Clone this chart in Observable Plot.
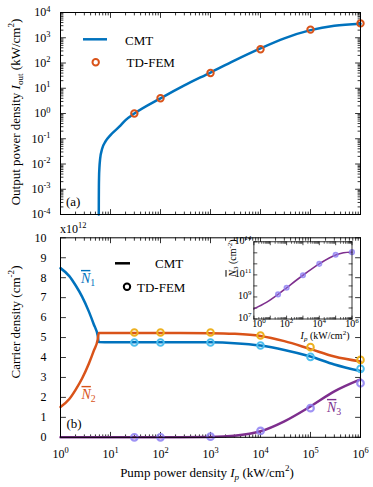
<!DOCTYPE html>
<html><head><meta charset="utf-8">
<script src="https://cdn.jsdelivr.net/npm/d3@7"></script>
<script src="https://cdn.jsdelivr.net/npm/@observablehq/plot@0.6"></script>
<style>
body{margin:0;background:#fff;}
#wrap{position:relative;width:373px;height:487px;overflow:hidden;font-family:"Liberation Serif",serif;}
#wrap svg{position:absolute;}
#wrap svg text{font-family:"Liberation Serif",serif;}
</style></head><body><div id="wrap"></div>
<script>
// ---------- Panel (a): output power density ----------
const cmtIpA   = [5.83, 5.84, 5.86, 5.9, 6.0, 6.2, 6.8, 8, 10, 15, 20, 30, 100, 300, 1000, 3000, 1e4, 3e4, 1e5, 3e5, 1e6];
const cmtIoutA = [1e-4, 4e-4, 1.2e-3, 3e-3, 7e-3, 0.016, 0.04, 0.08, 0.14, 0.3, 0.55, 1.0, 4.0, 13, 42, 125, 380, 950, 2000, 3000, 3600];
const femIpA   = [30, 100, 1000, 1e4, 1e5, 1e6];
const femIoutA = [1.0, 4.0, 40, 350, 2100, 3700];

// ---------- Panel (b): carrier densities (x 1e12 cm^-2) ----------
const cmtIpB = [1, 1.5, 2, 2.7, 3.7, 4.6, 5.57, 5.83, 10, 30, 100, 1000, 3000, 1e4, 3e4, 1e5, 3e5, 1e6];
const cmtN1  = [8.48, 8.08, 7.62, 7.05, 6.3, 5.68, 5.08, 4.78, 4.77, 4.77, 4.77, 4.76, 4.72, 4.6, 4.38, 4.05, 3.65, 3.32];
const cmtN2  = [1.52, 1.92, 2.38, 2.95, 3.7, 4.32, 4.92, 5.23, 5.23, 5.23, 5.23, 5.22, 5.19, 5.08, 4.82, 4.42, 4.05, 3.8];
const cmtN3  = [0, 0, 0, 0, 0, 0, 0, 0, 0, 0.002, 0.005, 0.02, 0.08, 0.3, 0.8, 1.55, 2.3, 2.9];
const femIpB = [30, 100, 1000, 1e4, 1e5, 1e6];
const femN1  = [4.75, 4.75, 4.75, 4.6, 4.03, 3.43];
const femN2  = [5.25, 5.25, 5.25, 5.1, 4.52, 3.88];
const femN3  = [0.0, 0.0, 0.03, 0.32, 1.46, 2.71];

// ---------- Inset: N3 on log scale (cm^-2) ----------
const insetIp     = [1, 5.83, 30, 100, 1000, 1e4, 1e5, 3e5, 1e6];
const insetN3     = [8.3e7, 3.2e8, 1.7e9, 6.8e9, 9.3e10, 1.0e12, 6.3e12, 1.0e13, 1.2e13];
const insetFemIp  = [30, 100, 1000, 1e4, 1e5, 1e6];
const insetFemN3  = [1.7e9, 6.8e9, 9.3e10, 1.0e12, 6.6e12, 1.15e13];

// ---------- ticks ----------
const decX       = [1, 10, 100, 1e3, 1e4, 1e5, 1e6];
const decYA      = [1e-4, 1e-3, 1e-2, 1e-1, 1, 10, 100, 1e3, 1e4];
const linYB      = [0, 1, 2, 3, 4, 5, 6, 7, 8, 9, 10];
const insetXLab0 = [1];
const insetXLab  = [100, 1e4, 1e6];
const insetYDec  = [1e7, 1e8, 1e9, 1e10, 1e11, 1e12, 1e13, 1e14];
const insetYLab  = [1e7, 1e9, 1e11, 1e14];
const mult       = [2, 3, 4, 5, 6, 7, 8, 9];

// ---------- texts ----------
const yLabelA  = "Output power density *I*_{out} (kW/cm^{2})";
const yLabelB  = "Carrier density (cm^{-2})";
const xLabelB  = "Pump power density *I*_{*p*} (kW/cm^{2})";
const insetXL  = "*I*_{*p*} (kW/cm^{2})";
const insetYL  = "~{*N*}_{3} (cm^{-2})";
const legendNames = ["CMT", "TD-FEM"];

const BLUE = "#0072BD", ORANGE = "#D95319", PURPLE = "#7E2F8E";
const LBLUE = "#4DBEEE", YELLOW = "#EDB120", LPURPLE = "#8E80F2";

const minorsOf = decs => decs.slice(0, -1).flatMap(d => mult.map(m => m * d));
const pow10 = d => `10^{${Math.round(Math.log10(d))}}`;
const zip = (xs, ys) => xs.map((x, i) => ({x, y: ys[i]}));

const tickShape = {draw(ctx, l) { ctx.moveTo(0, 0); ctx.lineTo(0, -l); }};
function boxTicks(xs, ys, len, sw = 0.8) {
  const o = {length: len, anchor: "start", shape: tickShape, stroke: "black", strokeWidth: sw};
  const m = [];
  if (xs) {
    m.push(Plot.vector(xs, {x: d => d, frameAnchor: "bottom", rotate: 0, ...o}));
    m.push(Plot.vector(xs, {x: d => d, frameAnchor: "top", rotate: 180, ...o}));
  }
  if (ys) {
    m.push(Plot.vector(ys, {y: d => d, frameAnchor: "left", rotate: 90, ...o}));
    m.push(Plot.vector(ys, {y: d => d, frameAnchor: "right", rotate: -90, ...o}));
  }
  return m;
}

const wrap = document.getElementById("wrap");
function place(svg, left, top) { svg.style.left = left + "px"; svg.style.top = top + "px"; wrap.appendChild(svg); return svg; }
const FONT = "'Liberation Serif', serif";

// Panel (a)
const plotA = Plot.plot({
  width: 373, height: 222, marginLeft: 60, marginRight: 13, marginTop: 12, marginBottom: 8,
  style: {fontFamily: FONT, fontSize: "12px", background: "transparent", overflow: "visible"},
  x: {type: "log", domain: [1, 1e6], axis: null},
  y: {type: "log", domain: [1e-4, 1e4]},
  marks: [
    ...boxTicks(minorsOf(decX), minorsOf(decYA), 2.5),
    ...boxTicks(decX, decYA, 5),
    Plot.axisY(decYA, {tickSize: 0, tickPadding: 10, tickFormat: pow10, label: null}),
    Plot.line(zip(cmtIpA, cmtIoutA), {x: "x", y: "y", stroke: BLUE, strokeWidth: 2.5, curve: "monotone-x"}),
    Plot.dot(zip(femIpA, femIoutA), {x: "x", y: "y", r: 3.2, stroke: ORANGE, strokeWidth: 2, fill: "none"}),
    Plot.frame({stroke: "black", strokeWidth: 1})
  ]
});
place(plotA, 0, 0);

// Panel (b)
const plotB = Plot.plot({
  width: 373, height: 265, marginLeft: 60, marginRight: 13, marginTop: 15.3, marginBottom: 50.2,
  style: {fontFamily: FONT, fontSize: "12px", background: "transparent", overflow: "visible"},
  x: {type: "log", domain: [1, 1e6]},
  y: {domain: [0, 10]},
  marks: [
    ...boxTicks(minorsOf(decX), null, 2.5),
    ...boxTicks(decX, linYB, 5),
    Plot.axisY(linYB, {tickSize: 0, tickPadding: 14, label: null}),
    Plot.axisX(decX, {tickSize: 0, tickPadding: 12, tickFormat: pow10, label: null}),
    Plot.line(zip(cmtIpB, cmtN3), {x: "x", y: "y", stroke: PURPLE, strokeWidth: 2.5, curve: "monotone-x"}),
    Plot.line(zip(cmtIpB, cmtN1), {x: "x", y: "y", stroke: BLUE, strokeWidth: 2.5, curve: "monotone-x"}),
    Plot.line(zip(cmtIpB, cmtN2), {x: "x", y: "y", stroke: ORANGE, strokeWidth: 2.5, curve: "monotone-x"}),
    Plot.dot(zip(femIpB, femN3), {x: "x", y: "y", r: 3.3, stroke: LPURPLE, strokeWidth: 2.2, strokeOpacity: 0.85, fill: "none"}),
    Plot.dot(zip(femIpB, femN1), {x: "x", y: "y", r: 3.3, stroke: LBLUE, strokeWidth: 2, fill: "none"}),
    Plot.dot(zip(femIpB, femN2), {x: "x", y: "y", r: 3.3, stroke: YELLOW, strokeWidth: 2, fill: "none"}),
    Plot.frame({stroke: "black", strokeWidth: 1})
  ]
});
place(plotB, 0, 222);

// Inset
const plotC = Plot.plot({
  width: 140, height: 100, marginLeft: 28.4, marginRight: 13.5, marginTop: 5.3, marginBottom: 17.5,
  style: {fontFamily: FONT, fontSize: "10px", background: "transparent", overflow: "visible"},
  x: {type: "log", domain: [1, 1e6]},
  y: {type: "log", domain: [1e7, 1e14]},
  marks: [
    Plot.frame({fill: "white"}),
    ...boxTicks(minorsOf(decX), null, 1.6, 0.6),
    ...boxTicks(decX, insetYDec, 3, 0.7),
    Plot.axisY(insetYLab, {tickSize: 0, tickPadding: 2.5, dy: -1, tickFormat: pow10, label: null}),
    Plot.axisX(insetXLab0, {tickSize: 0, tickPadding: 1, dx: 5, tickFormat: pow10, label: null}),
    Plot.axisX(insetXLab, {tickSize: 0, tickPadding: 1, tickFormat: pow10, label: null}),
    Plot.line(zip(insetIp, insetN3), {x: "x", y: "y", stroke: PURPLE, strokeWidth: 1.6, curve: "monotone-x"}),
    Plot.dot(zip(insetFemIp, insetFemN3), {x: "x", y: "y", r: 2.3, stroke: LPURPLE, strokeWidth: 1.5, fill: LPURPLE, fillOpacity: 0.45, strokeOpacity: 0.8}),
    Plot.frame({stroke: "black", strokeWidth: 0.8})
  ]
});
place(plotC, 225, 236);

// Overlay with labels and legends
const ov = d3.select(wrap).append("svg")
  .attr("width", 373).attr("height", 487)
  .style("left", "0px").style("top", "0px")
  .style("font-family", FONT);

function addText(s, x, y, {size = 13, anchor = "start", rotate = 0, fill = "black"} = {}) {
  ov.append("text")
    .attr("transform", `translate(${x},${y}) rotate(${rotate})`)
    .attr("text-anchor", anchor).attr("dy", "0.35em")
    .style("font-family", FONT)
    .attr("font-size", size).attr("fill", fill).text(s);
}
addText(yLabelA, 15, 112, {anchor: "middle", rotate: -90});
addText(yLabelB, 15, 322, {anchor: "middle", rotate: -90});
addText(xLabelB, 207, 472, {anchor: "middle"});
addText("(a)", 66, 201);
addText("(b)", 66.5, 423);
addText("x10^{12}", 60, 229, {size: 12});
addText("~{*N*}_{1}", 81, 278, {size: 14, fill: BLUE});
addText("~{*N*}_{2}", 81.5, 394, {size: 14, fill: ORANGE});
addText("~{*N*}_{3}", 327, 407, {size: 14, fill: PURPLE});
addText(insetXL, 325, 335, {size: 10, anchor: "middle"});
addText(insetYL, 232, 258, {size: 10, anchor: "middle", rotate: -90});

// legend (a)
ov.append("line").attr("x1", 83).attr("x2", 107).attr("y1", 39.3).attr("y2", 39.3).attr("stroke", BLUE).attr("stroke-width", 2.5);
addText(legendNames[0], 125, 40);
ov.append("circle").attr("cx", 95.7).attr("cy", 62.3).attr("r", 3.2).attr("fill", "none").attr("stroke", ORANGE).attr("stroke-width", 2);
addText(legendNames[1], 126.5, 62);
// legend (b)
ov.append("line").attr("x1", 115).attr("x2", 130).attr("y1", 263.3).attr("y2", 263.3).attr("stroke", "black").attr("stroke-width", 2.5);
addText(legendNames[0], 155, 263);
ov.append("circle").attr("cx", 127).attr("cy", 286.7).attr("r", 3.2).attr("fill", "none").attr("stroke", "black").attr("stroke-width", 2);
addText(legendNames[1], 137, 287);

// ---------- rich text: ^{sup} _{sub} *italic* ~{overline} ----------
function parseRich(s, st, out) {
  let buf = "";
  const flush = () => { if (buf) { out.push({t: buf, ...st}); buf = ""; } };
  for (let i = 0; i < s.length; i++) {
    const c = s[i];
    if ((c === "^" || c === "_" || c === "~") && s[i + 1] === "{") {
      flush();
      let depth = 1, j = i + 2;
      while (j < s.length && depth > 0) { if (s[j] === "{") depth++; else if (s[j] === "}") depth--; j++; }
      const inner = s.slice(i + 2, j - 1);
      const ns = {...st};
      if (c === "^") ns.lv = 1; else if (c === "_") ns.lv = -1; else ns.ov = true;
      parseRich(inner, ns, out);
      i = j - 1;
    } else if (c === "*") { flush(); st = {...st, it: !st.it}; }
    else buf += c;
  }
  flush();
  return out;
}
function rich(el) {
  const s = el.textContent;
  if (!/[\^_~*]/.test(s)) return;
  const F = parseFloat(getComputedStyle(el).fontSize) || 12;
  const segs = parseRich(s, {it: false, ov: false, lv: 0}, []);
  el.textContent = "";
  let cur = 0;
  for (const g of segs) {
    const shift = g.lv === 1 ? -0.4 * F : g.lv === -1 ? 0.25 * F : 0;
    const t = document.createElementNS("http://www.w3.org/2000/svg", "tspan");
    if (Math.abs(shift - cur) > 1e-6) t.setAttribute("dy", shift - cur);
    cur = shift;
    if (g.lv !== 0) t.setAttribute("font-size", 0.7 * F);
    if (g.it) t.setAttribute("font-style", "italic");
    if (g.ov) t.style.textDecoration = "overline";
    t.textContent = g.t;
    el.appendChild(t);
  }
}
wrap.querySelectorAll("text").forEach(rich);
</script></body></html>
